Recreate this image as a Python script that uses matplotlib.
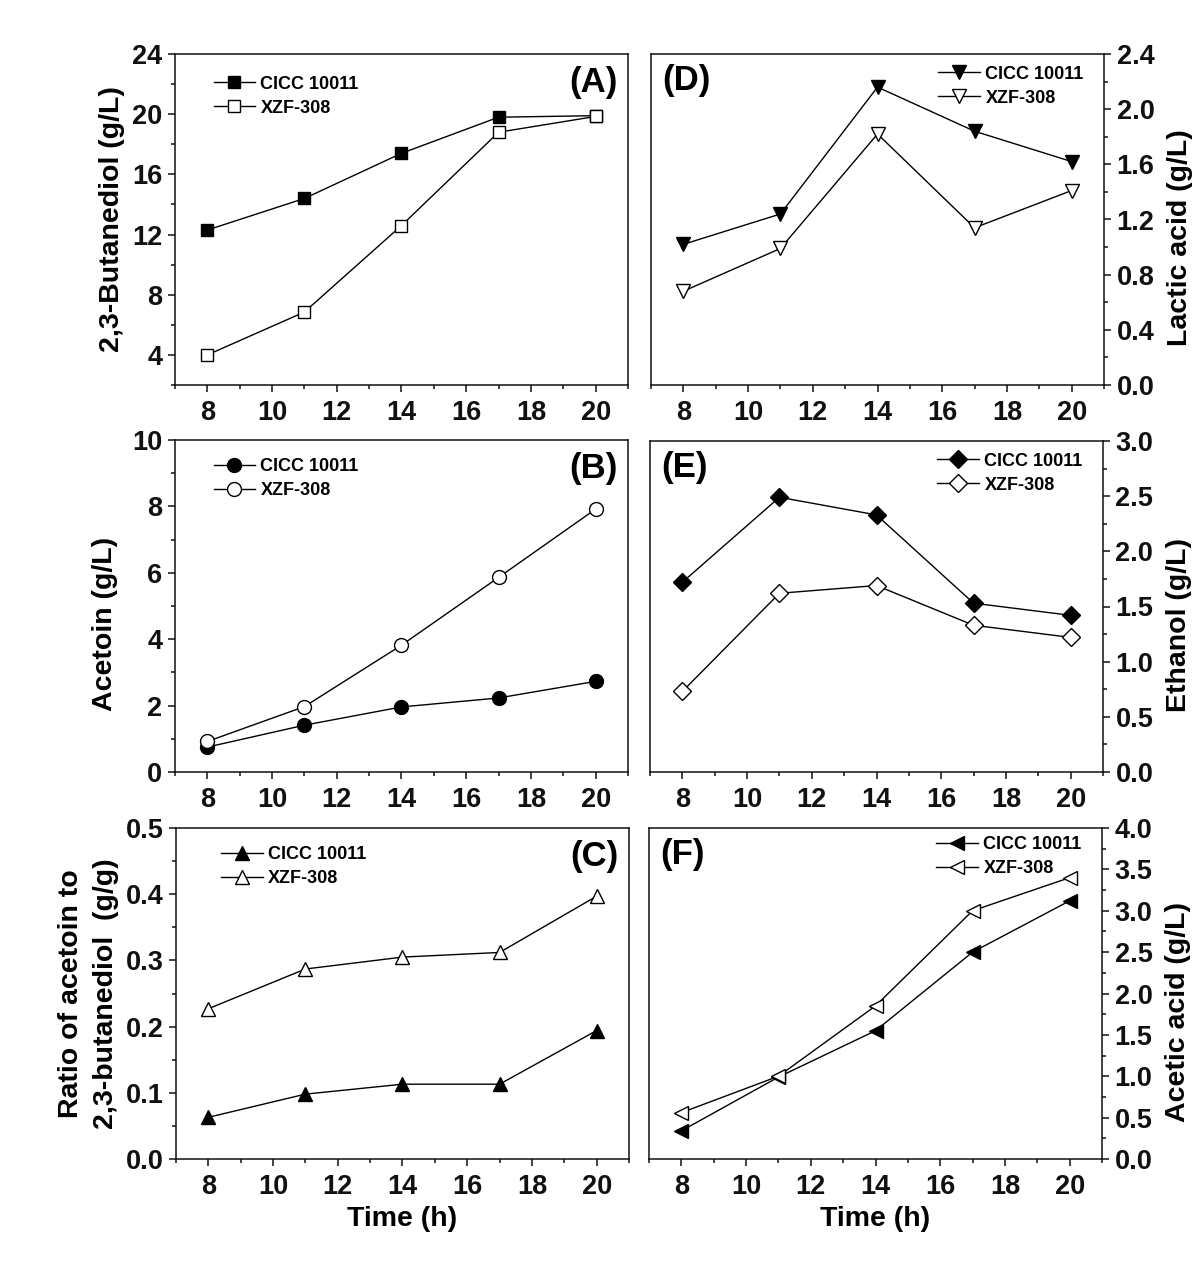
import matplotlib
matplotlib.use('Agg')
import matplotlib.pyplot as plt
from matplotlib.ticker import MultipleLocator

# Sampling times (h)
time_h = [8, 11, 14, 17, 20]
strains = ['CICC 10011', 'XZF-308']

# (A) 2,3-butanediol (g/L)
bdo_cicc = [12.3, 14.4, 17.4, 19.8, 19.9]
bdo_xzf = [4.0, 6.85, 12.6, 18.8, 19.85]

# (B) acetoin (g/L)
acetoin_cicc = [0.75, 1.41, 1.96, 2.23, 2.73]
acetoin_xzf = [0.92, 1.97, 3.82, 5.86, 7.92]

# (C) ratio acetoin / 2,3-butanediol (g/g)
ratio_cicc = [0.063, 0.098, 0.113, 0.113, 0.194]
ratio_xzf = [0.227, 0.287, 0.305, 0.312, 0.397]

# (D) lactic acid (g/L)
lactic_cicc = [1.02, 1.24, 2.16, 1.84, 1.62]
lactic_xzf = [0.68, 0.99, 1.82, 1.14, 1.41]

# (E) ethanol (g/L)
ethanol_cicc = [1.72, 2.49, 2.33, 1.53, 1.42]
ethanol_xzf = [0.73, 1.62, 1.69, 1.33, 1.22]

# (F) acetic acid (g/L)
acetic_cicc = [0.34, 0.99, 1.55, 2.50, 3.12]
acetic_xzf = [0.56, 1.00, 1.85, 3.00, 3.40]

plt.rcParams['font.family'] = ['Liberation Sans', 'DejaVu Sans']
plt.rcParams['font.weight'] = 'bold'
plt.rcParams['axes.labelweight'] = 'bold'

fig = plt.figure(figsize=(12, 12.72), dpi=100)

W, H = 1200, 1272


def make_axes(x0, y_top, y_bot, width=453):
    return fig.add_axes([x0 / W, 1 - y_bot / H, width / W, (y_bot - y_top) / H])


def style_panel(ax, ylim, major, minor, ylabel, tag, right=False, xlabel=None,
                label_y=None):
    ax.set_xlim(7, 21)
    ax.set_ylim(*ylim)
    ax.xaxis.set_major_locator(MultipleLocator(2))
    ax.xaxis.set_minor_locator(MultipleLocator(1))
    ax.yaxis.set_major_locator(MultipleLocator(major))
    ax.yaxis.set_minor_locator(MultipleLocator(minor))
    for sp in ax.spines.values():
        sp.set_linewidth(1.1)
        sp.set_color('#111111')
    ax.tick_params(which='both', direction='out', width=1.1, colors='#111111',
                   labelsize=19.5, top=False)
    ax.tick_params(which='major', length=5)
    ax.tick_params(which='minor', length=3)
    ax.tick_params(axis='x', pad=6)
    if right:
        ax.yaxis.tick_right()
        ax.yaxis.set_label_position('right')
        ax.tick_params(axis='y', left=False, which='both', pad=4)
        ax.set_ylabel(ylabel, fontsize=20.5)
        ax.yaxis.set_label_coords(1.139, 0.445)
        ax.text(0.025, 0.92, tag, transform=ax.transAxes, fontsize=25,
                fontweight='bold', ha='left', va='center')
    else:
        ax.tick_params(axis='y', right=False, which='both', pad=4)
        ax.set_ylabel(ylabel, fontsize=20.5, labelpad=5, linespacing=1.45)
        if label_y is not None:
            ax.yaxis.set_label_coords(-0.126, label_y)
        ax.text(0.976, 0.915, tag, transform=ax.transAxes, fontsize=25,
                fontweight='bold', ha='right', va='center')
    if xlabel:
        ax.set_xlabel(xlabel, fontsize=20.5, labelpad=4)


def plot_pair(ax, y1, y2, marker, ms, loc, anchor):
    ax.plot(time_h, y1, color='black', lw=1.0, marker=marker, ms=ms,
            mfc='black', mec='black', mew=1.0, label=strains[0])
    ax.plot(time_h, y2, color='black', lw=1.0, marker=marker, ms=ms,
            mfc='white', mec='black', mew=1.0, label=strains[1])
    ax.legend(loc=loc, bbox_to_anchor=anchor, frameon=False, borderpad=0,
              borderaxespad=0, handlelength=2.3, handletextpad=0.3,
              labelspacing=0.4, prop={'size': 13, 'weight': 'bold'})


# left column
axA = make_axes(175, 54, 385)
axB = make_axes(175, 440, 772)
axC = make_axes(176, 828, 1159)
# right column
axD = make_axes(651, 54, 385)
axE = make_axes(650, 441, 772)
axF = make_axes(649, 828, 1159)

plot_pair(axA, bdo_cicc, bdo_xzf, 's', 9, 'upper left', (0.085, 0.935))
style_panel(axA, (2, 24), 4, 2, '2,3-Butanediol (g/L)', '(A)')

plot_pair(axB, acetoin_cicc, acetoin_xzf, 'o', 10, 'upper left', (0.085, 0.945))
style_panel(axB, (0, 10), 2, 1, 'Acetoin (g/L)', '(B)', label_y=0.446)

plot_pair(axC, ratio_cicc, ratio_xzf, '^', 10, 'upper left', (0.1, 0.945))
style_panel(axC, (0, 0.5), 0.1, 0.05, 'Ratio of acetoin to\n2,3-butanediol  (g/g)',
            '(C)', xlabel='Time (h)')

plot_pair(axD, lactic_cicc, lactic_xzf, 'v', 10, 'upper right', (0.955, 0.965))
style_panel(axD, (0, 2.4), 0.4, 0.2, 'Lactic acid (g/L)', '(D)', right=True)

plot_pair(axE, ethanol_cicc, ethanol_xzf, 'D', 9, 'upper right', (0.955, 0.965))
style_panel(axE, (0, 3.0), 0.5, 0.25, 'Ethanol (g/L)', '(E)', right=True)

plot_pair(axF, acetic_cicc, acetic_xzf, '<', 10, 'upper right', (0.955, 0.975))
style_panel(axF, (0, 4.0), 0.5, 0.25, 'Acetic acid (g/L)', '(F)', right=True,
            xlabel='Time (h)')

fig.savefig('out.png', dpi=100, facecolor='white')
